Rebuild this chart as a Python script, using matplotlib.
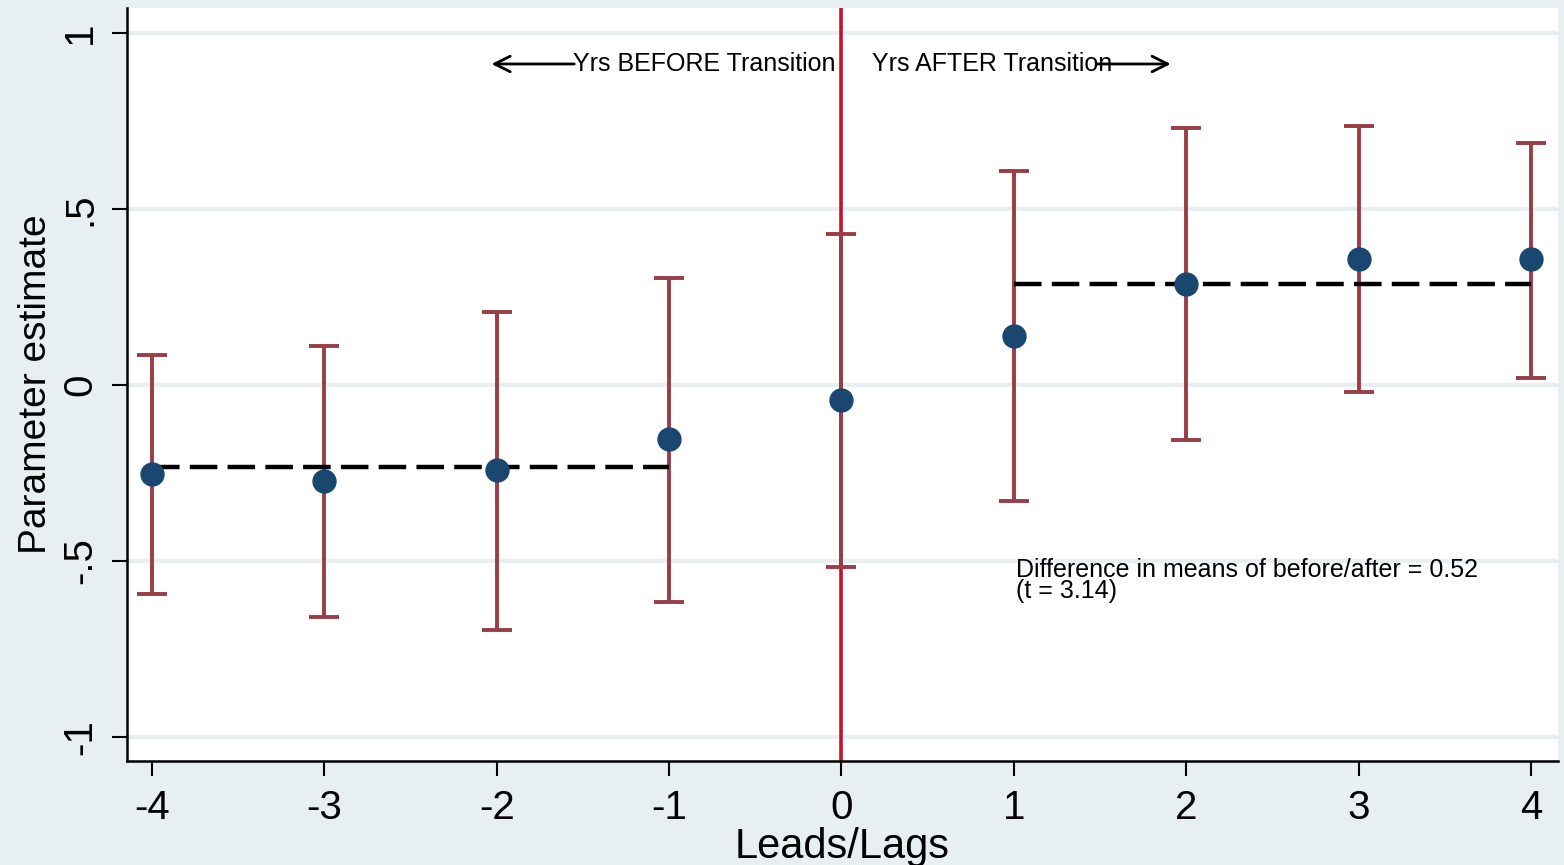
import numpy as np
import matplotlib
matplotlib.use("Agg")
import matplotlib.pyplot as plt

# event-time coefficients
leads_lags = [-4, -3, -2, -1, 0, 1, 2, 3, 4]
estimate = [-0.253, -0.273, -0.241, -0.153, -0.043, 0.139, 0.287, 0.358, 0.358]
ci_upper = [0.085, 0.111, 0.207, 0.304, 0.429, 0.608, 0.730, 0.736, 0.688]
ci_lower = [-0.594, -0.659, -0.696, -0.616, -0.517, -0.330, -0.156, -0.020, 0.020]

before_mean = -0.233
after_mean = 0.287
ytick_vals = [-1, -0.5, 0, 0.5, 1]
ytick_labels = ["-1", "-.5", "0", ".5", "1"]

bg = "#e8eff2"
navy = "#1a476f"
cranberry = "#993d47"


def main():
    plt.rcParams["font.family"] = ["Liberation Sans", "DejaVu Sans"]
    fig = plt.figure(figsize=(15.64, 8.65), dpi=100, facecolor=bg)
    ax = fig.add_axes([127 / 1564, 1 - 761 / 865, (1558 - 127) / 1564, (761 - 8) / 865])
    ax.set_facecolor("white")

    est = np.array(estimate)
    yerr = [est - np.array(ci_lower), np.array(ci_upper) - est]

    for yv in ytick_vals:
        ax.axhline(yv, color=bg, lw=3, zorder=0)

    ax.axvline(0, color="#c8102e", lw=2.6, zorder=1)

    ax.errorbar(leads_lags, estimate, yerr=yerr, fmt="none", ecolor=cranberry,
                elinewidth=2.8, capsize=11, capthick=2.8, zorder=2)
    ax.plot(leads_lags, estimate, "o", color=navy, markersize=16.5, zorder=4)

    ax.plot([-4, -1], [before_mean, before_mean], color="black", lw=3.2,
            linestyle=(0, (6.2, 2.3)), zorder=3)
    ax.plot([1, 4], [after_mean, after_mean], color="black", lw=3.2,
            linestyle=(0, (6.2, 2.3)), zorder=3)

    ax.annotate("", xy=(-2.03, 0.912), xytext=(-1.55, 0.912),
                arrowprops=dict(arrowstyle="->", lw=2, color="black",
                                mutation_scale=28, shrinkA=0, shrinkB=0))
    ax.text(-1.555, 0.912, "Yrs BEFORE Transition", fontsize=18,
            ha="left", va="center")
    ax.annotate("", xy=(1.91, 0.912), xytext=(1.48, 0.912),
                arrowprops=dict(arrowstyle="->", lw=2, color="black",
                                mutation_scale=28, shrinkA=0, shrinkB=0))
    ax.text(0.175, 0.912, "Yrs AFTER Transition", fontsize=18,
            ha="left", va="center")

    ax.text(1.015, -0.555, "Difference in means of before/after = 0.52\n(t = 3.14)",
            fontsize=18, ha="left", va="center", linespacing=0.86)

    ax.set_xlim(-4.145, 4.157)
    ax.set_ylim(-1.068, 1.071)
    ax.set_xticks(leads_lags)
    ax.set_xticklabels([str(v) for v in leads_lags])
    ax.set_yticks(ytick_vals)
    ax.set_yticklabels(ytick_labels, rotation=90, va="center")

    for side in ["top", "right"]:
        ax.spines[side].set_visible(False)
    for side in ["left", "bottom"]:
        ax.spines[side].set_linewidth(1.8)
    ax.tick_params(axis="both", length=11, width=1.5, labelsize=29, pad=9)

    ax.set_xlabel("Leads/Lags", fontsize=30, labelpad=0)
    ax.set_ylabel("Parameter estimate", fontsize=28, labelpad=5)

    fig.savefig("out.png", dpi=100, facecolor=bg)


if __name__ == '__main__':
    main()
